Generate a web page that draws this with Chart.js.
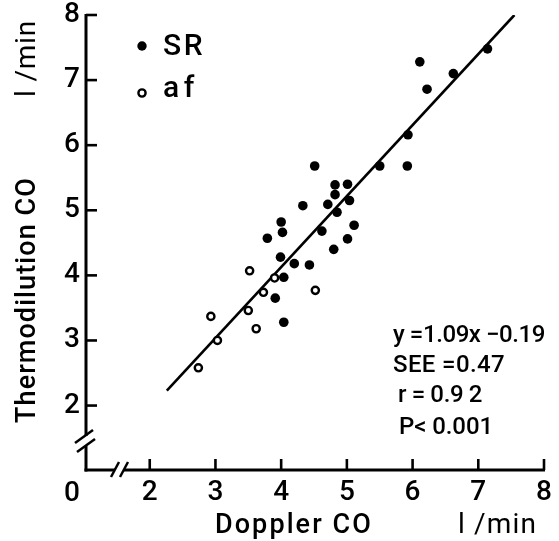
<!DOCTYPE html>
<html lang="en">
<head>
  <meta charset="UTF-8" />
  <title>Doppler vs Thermodilution CO</title>
  <script src="https://cdn.jsdelivr.net/npm/chart.js"></script>
  <style>
    html, body { margin: 0; padding: 0; background: #fff; }
    #wrap { width: 559px; height: 541px; }
  </style>
</head>
<body>
  <div id="wrap"><canvas id="coChart" width="559" height="541"></canvas></div>

  <script>
    // Sinus rhythm patients (filled dots), l/min
    const srDoppler = [3.99, 4.20, 4.43, 4.04, 3.91, 4.04, 4.51, 4.82, 5.01, 4.82, 5.04, 4.71, 4.33, 4.85,
                       4.00, 5.11, 4.02, 4.62, 3.79, 5.01, 4.80, 6.11, 6.62, 7.14, 6.22, 5.93, 5.50, 5.92];
    const srThermo  = [4.28, 4.18, 4.16, 3.97, 3.65, 3.28, 5.68, 5.39, 5.40, 5.24, 5.15, 5.09, 5.07, 4.97,
                       4.82, 4.77, 4.66, 4.68, 4.57, 4.56, 4.40, 7.28, 7.10, 7.48, 6.86, 6.16, 5.68, 5.68];

    // atrial fibrillation patients (open circles)
    const afDoppler = [3.52, 3.90, 3.73, 2.93, 3.50, 3.62, 3.03, 2.74, 4.52];
    const afThermo  = [4.07, 3.96, 3.74, 3.37, 3.46, 3.18, 3.00, 2.58, 3.77];

    // regression line as drawn (ends)
    const fitDoppler = [2.26, 7.55];
    const fitThermo  = [2.23, 8.00];

    const tickValues = [2, 3, 4, 5, 6, 7, 8];
    const statsLines = ['y =1.09x \u22120.19', 'SEE =0.47', 'r = 0.9 2', 'P< 0.001'];

    const FONT = "Roboto, 'Liberation Sans', Arial, sans-serif";
    Chart.defaults.font.family = FONT;
    Chart.defaults.color = '#000';

    const toPoints = (xs, ys) => xs.map((x, i) => ({ x: x, y: ys[i] }));

    // draw text stretched or squeezed (via letter spacing) to a given width
    function fitText(c, str, x, y, width) {
      c.letterSpacing = '0px';
      const w = c.measureText(str).width;
      c.letterSpacing = ((width - w) / str.length) + 'px';
      c.fillText(str, x, y);
      c.letterSpacing = '0px';
    }

    function seg(c, x1, y1, x2, y2) {
      c.beginPath();
      c.moveTo(x1, y1);
      c.lineTo(x2, y2);
      c.stroke();
    }

    // axes, ticks, titles, break marks, legend and the stats block
    const decor = {
      id: 'decor',
      afterDraw(chart) {
        const c = chart.ctx;
        const a = chart.chartArea;
        const xs = chart.scales.x, ys = chart.scales.y;
        c.save();
        c.fillStyle = '#000';
        c.strokeStyle = '#000';

        // axis lines
        c.lineWidth = 3;
        seg(c, a.left, a.top - 1, a.left, a.bottom + 1.5);
        seg(c, a.left - 1.5, a.bottom, a.right + 1, a.bottom);

        // inward tick marks
        c.lineWidth = 2.6;
        tickValues.forEach(v => {
          const px = xs.getPixelForValue(v);
          seg(c, px, a.bottom, px, a.bottom - 11);
          const py = ys.getPixelForValue(v);
          seg(c, a.left, py, a.left + 11, py);
        });

        // y axis break
        c.fillStyle = '#fff';
        c.fillRect(a.left - 3, a.bottom - 34, 6, 10);
        c.fillStyle = '#000';
        c.lineWidth = 2.5;
        seg(c, a.left - 11, a.bottom - 27, a.left + 7, a.bottom - 40);
        seg(c, a.left - 9, a.bottom - 18, a.left + 9, a.bottom - 31);

        // x axis break
        c.fillStyle = '#fff';
        c.fillRect(a.left + 29, a.bottom - 3, 9, 6);
        c.fillStyle = '#000';
        seg(c, a.left + 25, a.bottom + 7, a.left + 33, a.bottom - 8);
        seg(c, a.left + 34, a.bottom + 7, a.left + 42, a.bottom - 8);

        // "0" at the corner
        c.font = '500 28px ' + FONT;
        c.textAlign = 'center';
        c.textBaseline = 'alphabetic';
        c.fillText('0', 72, 501);

        // x titles
        c.textAlign = 'left';
        c.font = '500 27px ' + FONT;
        fitText(c, 'Doppler CO', 215, 533, 158);
        c.font = '28px ' + FONT;
        fitText(c, 'l /min', 458, 533, 79);

        // y titles (rotated)
        c.save();
        c.translate(35, 423);
        c.rotate(-Math.PI / 2);
        c.font = '500 27px ' + FONT;
        fitText(c, 'Thermodilution CO', 0, 0, 246);
        c.restore();
        c.save();
        c.translate(35, 97);
        c.rotate(-Math.PI / 2);
        c.font = '28px ' + FONT;
        fitText(c, 'l /min', 0, 0, 77);
        c.restore();

        // legend
        c.beginPath();
        c.arc(142, 46, 4.7, 0, Math.PI * 2);
        c.fill();
        c.beginPath();
        c.lineWidth = 2.4;
        c.arc(142, 93, 3.6, 0, Math.PI * 2);
        c.stroke();
        c.font = '500 30px ' + FONT;
        fitText(c, 'SR', 163, 55, 42);
        fitText(c, 'af', 163, 97, 36);

        // stats
        c.font = '500 24px ' + FONT;
        const sx = [393, 393, 398, 399];
        const sy = [342, 372, 402, 434];
        const sw = [152, 112, 84, 94];
        statsLines.forEach((t, i) => fitText(c, t, sx[i], sy[i], sw[i]));

        c.restore();
      }
    };

    const ctx = document.getElementById('coChart').getContext('2d');
    new Chart(ctx, {
      type: 'scatter',
      data: {
        datasets: [
          {
            label: 'SR',
            data: toPoints(srDoppler, srThermo),
            pointRadius: 4.8,
            backgroundColor: '#000',
            borderColor: '#000',
            borderWidth: 0
          },
          {
            label: 'af',
            data: toPoints(afDoppler, afThermo),
            pointRadius: 3.6,
            backgroundColor: '#fff',
            borderColor: '#000',
            borderWidth: 2.4
          },
          {
            type: 'line',
            label: 'fit',
            data: toPoints(fitDoppler, fitThermo),
            borderColor: '#000',
            borderWidth: 2.6,
            pointRadius: 0,
            fill: false
          }
        ]
      },
      options: {
        responsive: false,
        animation: false,
        layout: { padding: { top: 15, right: 15, left: 0, bottom: 0 } },
        plugins: { legend: { display: false }, tooltip: { enabled: false } },
        scales: {
          x: {
            type: 'linear',
            min: 1.03,
            max: 8,
            afterBuildTicks: s => { s.ticks = tickValues.map(v => ({ value: v })); },
            afterFit: s => { s.height = 71; s.paddingLeft = 0; s.paddingRight = 0; },
            ticks: { font: { size: 28, weight: '500' }, color: '#000', padding: 6, maxRotation: 0 },
            grid: { display: false, drawTicks: false },
            border: { display: false }
          },
          y: {
            type: 'linear',
            min: 1.01,
            max: 8,
            afterBuildTicks: s => { s.ticks = tickValues.map(v => ({ value: v })); },
            afterFit: s => { s.width = 86; s.paddingTop = 0; s.paddingBottom = 0; },
            ticks: { font: { size: 28, weight: '500' }, color: '#000', padding: 6 },
            grid: { display: false, drawTicks: false },
            border: { display: false }
          }
        }
      },
      plugins: [decor]
    });
  </script>
</body>
</html>
